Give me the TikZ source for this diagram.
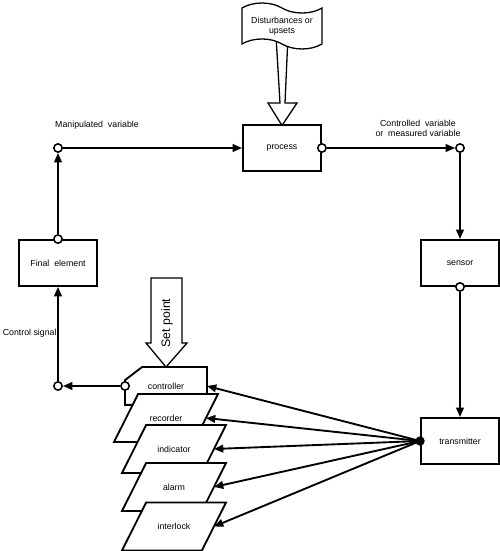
\documentclass[tikz,border=0pt]{standalone}
\usepackage{fontspec}
\setmainfont{Liberation Sans}
\usetikzlibrary{positioning, arrows.meta, calc, shapes.symbols}

\begin{document}
\begin{tikzpicture}[
  x=0.03cm, y=0.03cm, line width=1.6pt,
  every node/.style={font=\fontsize{7.5}{8.5}\selectfont, align=center},
  blk/.style={draw, fill=white, minimum width=2.34cm, minimum height=1.38cm},
  frame/.style={minimum width=2.34cm, minimum height=1.38cm},
  port/.style={circle, draw, fill=white, inner sep=0pt, minimum size=0.25cm, line width=1.3pt},
  tap/.style={circle, fill=black, inner sep=0pt, minimum size=0.28cm},
  arr/.style={-{Triangle[length=8pt, width=6.5pt]}},
  hollow/.style={draw, fill=white, line width=1.1pt, line join=miter}
]
  \useasboundingbox (0,0) rectangle (500,551);

  % Disturbance input (hollow arrow under the flag)
  \draw[hollow] (276,515) -- (288,515) -- (285,448) -- (297,448) -- (282,425.5)
    -- (268,448) -- (280,448) -- cycle;
  \node[tape, draw, fill=white, tape bend top=out and in, tape bend bottom=out and in,
    tape bend height=0.3cm, minimum width=2.4cm, minimum height=1.25cm, line width=1.1pt]
    (dist) at (282,525) {Disturbances or\\upsets};

  % Main loop blocks
  \node[blk] (process) at (282,403) {process};
  \node[blk] (sensor) at (460,288) {sensor};
  \node[blk] (trans) at (460,110) {transmitter};
  \node[blk] (final) at (58,288) {Final\ \ element};

  % Controller (clipped corner)
  \node[minimum width=2.4cm, minimum height=1.08cm] (ctrl) at (166,165) {};
  \draw[fill=white] (ctrl.south west) -- ($(ctrl.north west)+(0,-13)$)
    -- ($(ctrl.north west)+(17,0)$) -- (ctrl.north east) -- (ctrl.south east) -- cycle;
  \node at (ctrl) {controller};

  % Stacked output devices (slanted boxes)
  \foreach \n/\x/\y/\txt in {rec/166/133/recorder, ind/174/102/indicator,
      alm/174/64/alarm, ilk/174/24.5/interlock} {
    \node[frame] (\n) at (\x,\y) {};
    \draw[fill=white] ($(\n.south west)+(-12,0)$) -- ($(\n.north west)+(12,0)$)
      -- ($(\n.north east)+(12,0)$) -- ($(\n.south east)+(-12,0)$) -- cycle;
    \node at (\n) {\txt};
  }

  % Set point input
  \draw[hollow] (151,273) -- (182,273) -- (182,208) -- (187,208) -- (ctrl.north)
    -- (146,208) -- (151,208) -- cycle;
  \node[rotate=90, font=\fontsize{10.5}{12}\selectfont] (setpt) at (167,228) {Set point};

  % Process -> sensor -> transmitter
  \node[port] (pout) at (process.east) {};
  \node[port] (cvp) at (460,403) {};
  \draw[arr] (pout) -- (cvp);
  \draw[arr] (cvp) -- (sensor.north);
  \node[port] (sout) at (sensor.south) {};
  \draw[arr] (sout) -- (trans.north);

  % Transmitter fans out to the receivers
  \node[tap] (tdot) at (trans.west) {};
  \foreach \t in {ctrl, rec, ind, alm, ilk}
    \draw[arr] (tdot.center) -- (\t.east);

  % Controller -> final element -> process
  \node[port] (cin) at (ctrl.west) {};
  \node[port] (csp) at (58,165) {};
  \draw[arr] (cin) -- (csp);
  \draw[arr] (csp) -- (final.south);
  \node[port] (ftop) at (final.north) {};
  \node[port] (mvp) at (58,403) {};
  \draw[arr] (ftop) -- (mvp);
  \draw[arr] (mvp) -- (process.west);

  % Signal labels
  \node (mvlab) at (97,426) {Manipulated\ \ variable};
  \node (cvlab) at (418,423) {Controlled\ \ variable\\or\ \ measured variable};
  \node[anchor=west] (cslab) at (-2,218) {Control signal};
\end{tikzpicture}
\end{document}
